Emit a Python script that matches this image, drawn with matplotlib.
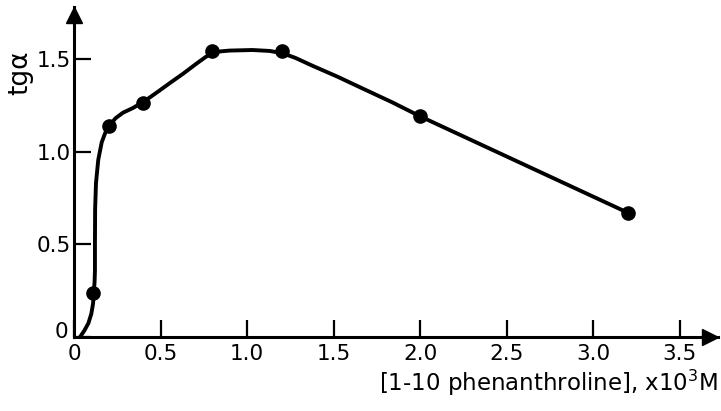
import matplotlib.pyplot as plt
from matplotlib.transforms import ScaledTranslation

# measured points
conc = [0.11, 0.20, 0.40, 0.80, 1.20, 2.00, 3.20]
tga = [0.24, 1.14, 1.26, 1.54, 1.54, 1.19, 0.67]

# hand-drawn curve through the points
curve_x = [0.035, 0.06, 0.083, 0.10, 0.11, 0.115, 0.119, 0.121, 0.121, 0.122, 0.127,
           0.14, 0.16, 0.18, 0.204, 0.24, 0.283, 0.34, 0.404, 0.48, 0.554, 0.63,
           0.708, 0.76, 0.80, 0.85, 0.90, 1.03, 1.13, 1.207, 1.28, 1.38, 1.52, 1.668,
           1.84, 2.00, 3.20]
curve_y = [0.0, 0.035, 0.074, 0.125, 0.18, 0.245, 0.30, 0.36, 0.51, 0.69, 0.83,
           0.955, 1.05, 1.10, 1.14, 1.18, 1.21, 1.235, 1.27, 1.32, 1.37, 1.42,
           1.475, 1.51, 1.532, 1.541, 1.545, 1.548, 1.543, 1.53, 1.505, 1.462, 1.405,
           1.34, 1.265, 1.19, 0.67]

xticks = [0, 0.5, 1.0, 1.5, 2.0, 2.5, 3.0, 3.5]
xticklabels = ["0", "0.5", "1.0", "1.5", "2.0", "2.5", "3.0", "3.5"]
yticks = [0, 0.5, 1.0, 1.5]
yticklabels = ["0", "0.5", "1.0", "1.5"]

fig = plt.figure(figsize=(7.21, 4.11), dpi=100)
ax = fig.add_axes([74 / 721, 74 / 411, 644 / 721, 330 / 411])

ax.plot(curve_x, curve_y, color="black", lw=2.8, solid_capstyle="round",
        solid_joinstyle="round")
ax.plot(conc, tga, "o", color="black", ms=9.5)

ax.set_xlim(0, 3.72)
ax.set_ylim(0, 1.78)

for s in ["top", "right"]:
    ax.spines[s].set_visible(False)
for s in ["left", "bottom"]:
    ax.spines[s].set_linewidth(2.2)

# arrow heads on the axes
ax.plot(0.988, 0, ">", color="black", ms=11, transform=ax.transAxes, clip_on=False)
ax.plot(0, 0.975, "^", color="black", ms=11, transform=ax.transAxes, clip_on=False)

ax.set_xticks(xticks)
ax.set_xticklabels(xticklabels)
ax.set_yticks(yticks)
ax.set_yticklabels(yticklabels)
ax.tick_params(direction="in", length=12.5, width=1.6, labelsize=15.5)
ax.tick_params(axis="x", pad=5)
ax.tick_params(axis="y", pad=2)

# raise the y-axis zero a little so it sits beside the x-axis zero
ylab0 = ax.get_yticklabels()[0]
ylab0.set_transform(ylab0.get_transform() + ScaledTranslation(-2 / 72, 5 / 72, fig.dpi_scale_trans))

fig.text(0.028, 0.822, "tgα", rotation=90, ha="center", va="center",
         fontsize=19, family="DejaVu Sans")
fig.text(0.996, 0.068, "[1-10 phenanthroline], x10$^3$M", ha="right", va="center",
         fontsize=16.5, family="DejaVu Sans")

fig.savefig("out.png", dpi=100)
